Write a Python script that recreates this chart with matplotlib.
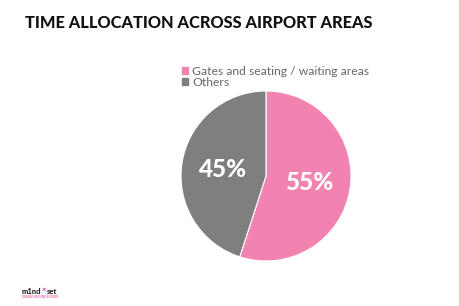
import matplotlib
matplotlib.use("Agg")
import matplotlib.pyplot as plt
from matplotlib.patches import Patch
import numpy as np

categories = ["Gates and seating / waiting areas", "Others"]
values = [55, 45]
labels = ["55%", "45%"]
colors = ["#F283B1", "#7F7F7F"]

plt.rcParams['font.family'] = ['Lato', 'DejaVu Sans']

fig = plt.figure(figsize=(4.6, 3.06), dpi=100)
W, H = 460, 306
cx, cy, r = 266, 176, 85
ax = fig.add_axes([(cx - r) / W, 1 - (cy + r) / H, 2 * r / W, 2 * r / H])
wedges, _ = ax.pie(values, colors=colors, startangle=90, counterclock=False,
                   wedgeprops=dict(edgecolor="white", linewidth=0.8))
for w, lab in zip(wedges, labels):
    th = np.deg2rad((w.theta1 + w.theta2) / 2)
    ax.text(0.52 * np.cos(th), 0.52 * np.sin(th), lab, ha="center", va="center",
            color="white", fontsize=17.5, fontweight="black")
ax.set_xlim(-1, 1)
ax.set_ylim(-1, 1)
ax.set_aspect("auto")
ax.axis("off")

fig.text(25 / W, 1 - 23 / H, "TIME ALLOCATION ACROSS AIRPORT AREAS",
         fontsize=11.8, fontweight="black", color="#111111", va="center", ha="left")

handles = [Patch(color=c) for c in colors]
fig.legend(handles, categories, loc="upper left", bbox_to_anchor=(176 / W, 1 - 60 / H),
           frameon=False, fontsize=8.7, handlelength=0.5, handleheight=0.5,
           handletextpad=0.35, labelspacing=0.0, borderpad=0, labelcolor="#666666")

fig.text(41 / W, 1 - 291 / H, "m1nd", fontsize=5.5, fontweight="black", color="#222222",
         va="center", ha="right")
fig.text(44 / W, 1 - 289 / H, "×", fontsize=5.5, fontweight="bold", color="#E8308A",
         va="center", ha="center")
fig.text(47 / W, 1 - 291 / H, "set", fontsize=5.5, fontweight="black", color="#222222",
         va="center", ha="left")
fig.text(22 / W, 1 - 297 / H, "RESEARCH BEYOND BORDERS", fontsize=1.8, color="#E8308A",
         va="center", ha="left")

fig.savefig("out.png", dpi=100, facecolor="white")
